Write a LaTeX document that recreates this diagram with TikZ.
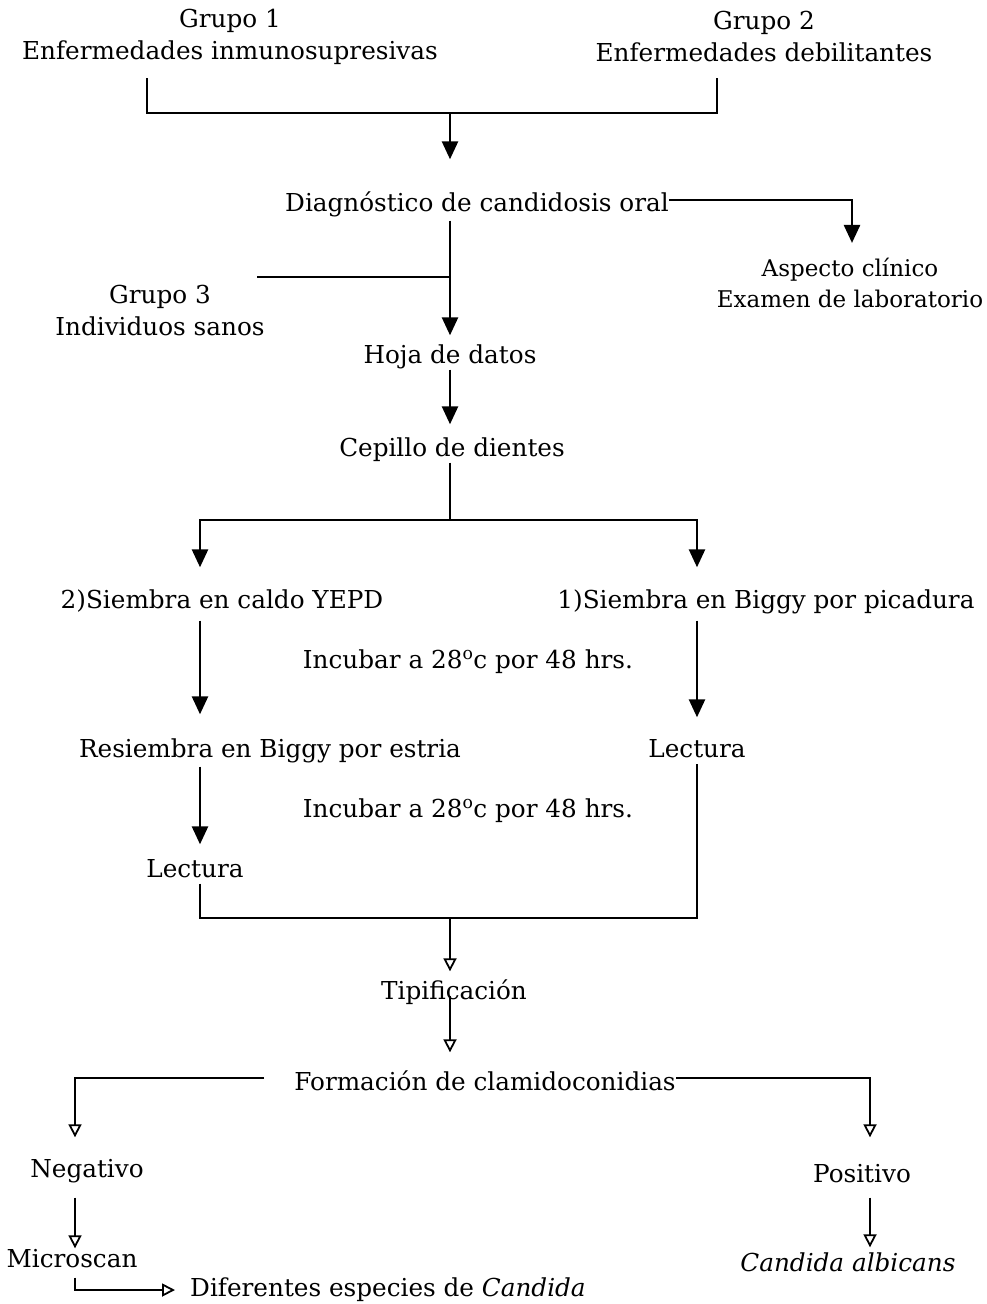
\documentclass[tikz,border=0pt]{standalone}
\usepackage{fontspec}
\setmainfont{DejaVu Serif}
\usetikzlibrary{arrows.meta}
\usetikzlibrary{calc}

\tikzset{
  txt/.style={inner sep=0pt, text height=19pt, text depth=6pt, font=\fontsize{24.7}{32}\selectfont},
  blk/.style={inner sep=0pt, align=center, font=\fontsize{24.7}{32}\selectfont},
  thk/.style={line width=2.6pt},
  thn/.style={line width=1.8pt},
  fa/.style={thk, -{Triangle[width=16pt,length=18pt]}},
  oa/.style={thn, -{Triangle[open,width=13pt,length=13pt]}}
}

\begin{document}
\begin{tikzpicture}[x=1pt,y=-1pt]
\useasboundingbox (0,0) rectangle (986,1304);
% The upper part
\node[blk] (g1) at (230,37) {Grupo 1\\Enfermedades inmunosupresivas};
\node[blk] (g2) at (764,37) {Grupo 2\\Enfermedades debilitantes};
\node[txt] (diag) at (477,205) {Diagnóstico de candidosis oral};
\node[blk, font=\fontsize{23}{31}\selectfont] (asp) at (850,283) {Aspecto clínico\\Examen de laboratorio};
\node[blk] (g3) at (160,311) {Grupo 3\\Individuos sanos};
\node[txt] (hoja) at (450,357) {Hoja de datos};
\node[txt] (cep) at (452,450) {Cepillo de dientes};
%     the two columns
\node[txt] (sie2) at (222,602) {2)Siembra en caldo YEPD};
\node[txt] (sie1) at (766,602) {1)Siembra en Biggy por picadura};
\node[txt] (inc1) at (468,662) {Incubar a 28\textsuperscript{o}c por 48 hrs.};
\node[txt] (res) at (270,751) {Resiembra en Biggy por estria};
\node[txt] (lec1) at (697,751) {Lectura};
\node[txt] (inc2) at (468,811) {Incubar a 28\textsuperscript{o}c por 48 hrs.};
\node[txt] (lec2) at (195,871) {Lectura};
% The lower part
\node[txt] (tipf) at (454,993) {Tipificación};
\node[txt] (form) at (485,1084) {Formación de clamidoconidias};
\node[txt] (neg) at (87,1171) {Negativo};
\node[txt] (pos) at (862,1176) {Positivo};
\node[txt] (micro) at (72,1261) {Microscan};
\node[txt] (calb) at (848,1265) {\textit{Candida albicans}};
\node[txt, anchor=west] (dif) at (190,1290) {Diferentes especies de \textit{Candida}};
%     joints
\coordinate (c1) at (147,78);
\coordinate (c2) at (717,78);
\coordinate (j1) at (450,113);
\coordinate (g3e) at (257,277);
\coordinate (j2) at (450,520);
\coordinate (colL) at (200,0);
\coordinate (colR) at (697,0);
\coordinate (j3) at (450,918);
\coordinate (colN) at (75,0);
\coordinate (colP) at (870,0);
% Black arrows
\draw[thk] (c1) |- (j1) -| (c2);
\draw[fa, shorten >=33pt] (j1) -- (j1 |- diag.north);
\draw[fa, shorten >=15pt] ([yshift=5pt]diag.east) -| ([xshift=2pt]asp.north);
\draw[fa, shorten <=3pt, shorten >=9pt] (diag.south -| hoja) -- (hoja.north);
\draw[thk] (g3e) -- (g3e -| hoja);
\draw[fa, shorten >=13pt] (hoja.south) -- (hoja.south |- cep.north);
\draw[thk] (hoja.south |- cep.south) -- (j2);
\draw[fa, shorten >=22pt] (j2) -| (colL |- sie2.north);
\draw[fa, shorten >=22pt] (j2) -| (colR |- sie1.north);
\draw[fa, shorten <=6pt, shorten >=24pt] (colL |- sie2.south) -- (colL |- res.north);
\draw[fa, shorten <=6pt, shorten >=21pt] (sie1.south -| colR) -- (lec1.north);
\draw[fa, shorten <=3pt, shorten >=14pt] (colL |- res.south) -- (colL |- lec2.north);
\draw[thk] (colL |- lec2.south) |- (j3) -| (lec1.south);
% Open arrows
\draw[oa, shorten >=9pt] (j3) -- (j3 |- tipf.north);
\draw[oa, shorten <=-10pt, shorten >=19pt] (j3 |- tipf.south) -- (j3 |- form.north);
\draw[oa, shorten <=30pt, shorten >=21pt] ([yshift=6pt]form.west) -| (colN |- neg.north);
\draw[oa, shorten >=26pt] ([yshift=6pt]form.east) -| (colP |- pos.north);
\draw[oa, shorten <=14pt] (colN |- neg.south) -- (colN |- micro.north);
\draw[oa, shorten <=9pt, shorten >=5pt] (colP |- pos.south) -- (colP |- calb.north);
\draw[oa, shorten <=4pt, shorten >=15pt] (colN |- micro.south) |- (dif.west);
\end{tikzpicture}
\end{document}
